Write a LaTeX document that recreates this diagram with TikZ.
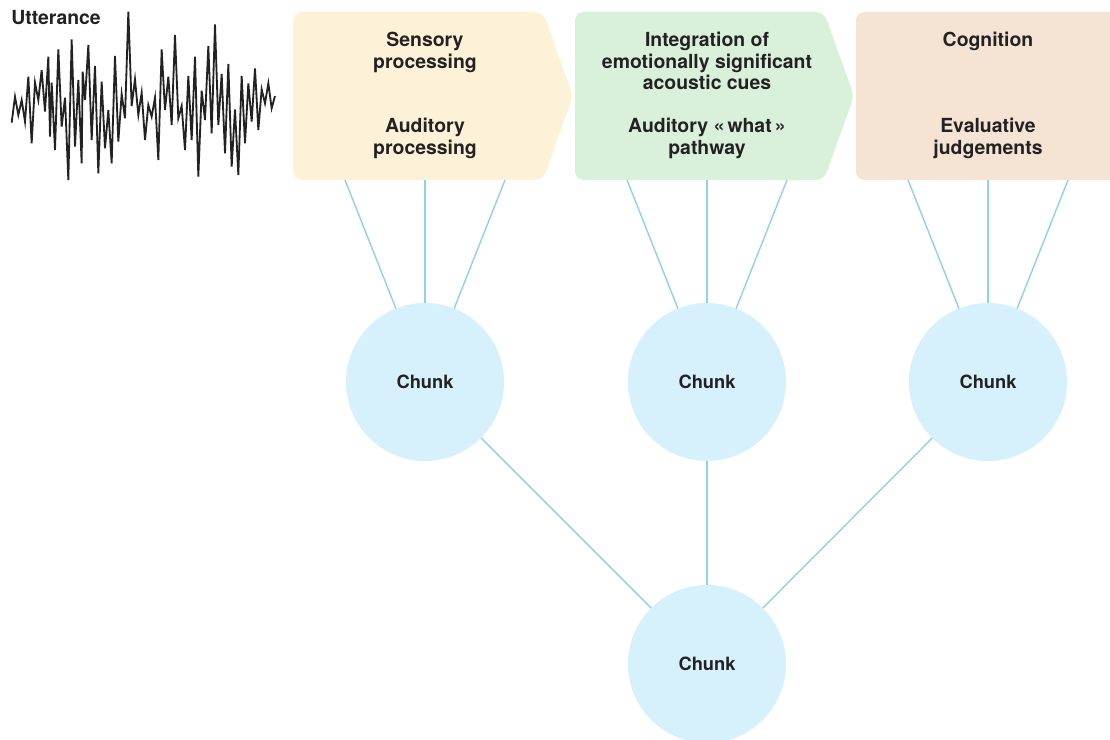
\documentclass[tikz,border=0pt]{standalone}
\usepackage{fontspec}
\setmainfont{TeX Gyre Heros}
\definecolor{sensyellow}{HTML}{FDF1D8}
\definecolor{integgreen}{HTML}{D9F1DA}
\definecolor{cogbeige}{HTML}{F5E4D4}
\definecolor{chunkblue}{HTML}{D6F1FB}
\definecolor{linkblue}{HTML}{8ED2EC}
\definecolor{inkgray}{HTML}{222222}
\tikzstyle{chunk}=[circle, fill=chunkblue, minimum size=3.95cm, inner sep=0, outer sep=0, text=inkgray, font=\fontsize{13}{15}\selectfont\bfseries]
\tikzstyle{link}=[draw=linkblue, line width=1pt]
\tikzstyle{stage text}=[anchor=north, align=center, inner sep=0, text=inkgray, font=\fontsize{13.8}{15.2}\selectfont\bfseries]

\begin{document}
\begin{tikzpicture}[x=0.025cm, y=-0.025cm]
      \useasboundingbox (0,0) rectangle (1110,740);
      \clip (0,0) rectangle (1110,740);

      % stage boxes
      \fill[sensyellow, rounded corners=6] (293,12) -- (543,12) -- (573,96) -- (543,180) -- (293,180) -- cycle;
      \fill[integgreen, rounded corners=6] (575,12) -- (824,12) -- (854,96) -- (824,180) -- (575,180) -- cycle;
      \fill[cogbeige, rounded corners=6] (856,12) -- (1130,12) -- (1130,180) -- (856,180) -- cycle;

      \node[stage text] (sens) at (425,32) {Sensory\\processing};
      \node[stage text] (aud) at (425,118) {Auditory\\processing};
      \node[stage text] (integ) at (707,32) {Integration of\\emotionally significant\\acoustic cues};
      \node[stage text] (what) at (707,118) {Auditory «\,what\,»\\pathway};
      \node[stage text] (cog) at (988,32) {Cognition};
      \node[stage text] (eval) at (988,118) {Evaluative\\judgements};

      % utterance waveform
      \node[anchor=base west, inner sep=0, text=inkgray, font=\fontsize{13.8}{15}\selectfont\bfseries] (utt) at (11,25) {Utterance};
      \begin{scope}[scale=1/3]
        \draw[inkgray, line width=1.3pt, line join=miter] plot coordinates {
          (35,368) (45,290) (55,345) (65,300) (75,365) (85,230) (95,430) (105,248)
          (115,300) (125,210) (135,335) (145,170) (150,410) (155,248) (165,450) (175,148)
          (185,380) (195,293) (205,540) (215,118) (225,440) (235,240) (245,490) (248,215)
          (255,300) (265,135) (275,420) (285,198) (295,520) (305,245) (315,445) (325,330)
          (335,490) (345,168) (355,425) (365,282) (375,355) (385,35) (395,318) (405,238)
          (415,345) (425,278) (435,420) (445,315) (455,350) (465,293) (475,480) (485,148)
          (495,330) (505,230) (515,375) (525,105) (535,355) (545,318) (555,450) (565,228)
          (575,420) (585,170) (595,530) (605,272) (615,360) (625,138) (635,400) (645,73)
          (655,375) (665,222) (675,460) (685,192) (695,500) (705,328) (715,525) (725,228)
          (735,430) (745,250) (755,365) (765,205) (775,390) (785,268) (795,310) (805,250)
          (815,325) (825,288)};
      \end{scope}

      % chunks
      \node[chunk] (c1) at (425,382) {Chunk};
      \node[chunk] (c2) at (707,382) {Chunk};
      \node[chunk] (c3) at (988,382) {Chunk};
      \node[chunk] (top) at (707,664) {Chunk};

      \foreach \x/\n in {425/1, 707/2, 988/3} {
        \foreach \d/\k in {-80/a, 0/b, 80/c} {
          \coordinate (foot\n\k) at (\x+\d,180);
          \draw[link] (foot\n\k) -- (c\n);
        }
        \draw[link] (c\n) -- (top);
      }
    \end{tikzpicture}
\end{document}
